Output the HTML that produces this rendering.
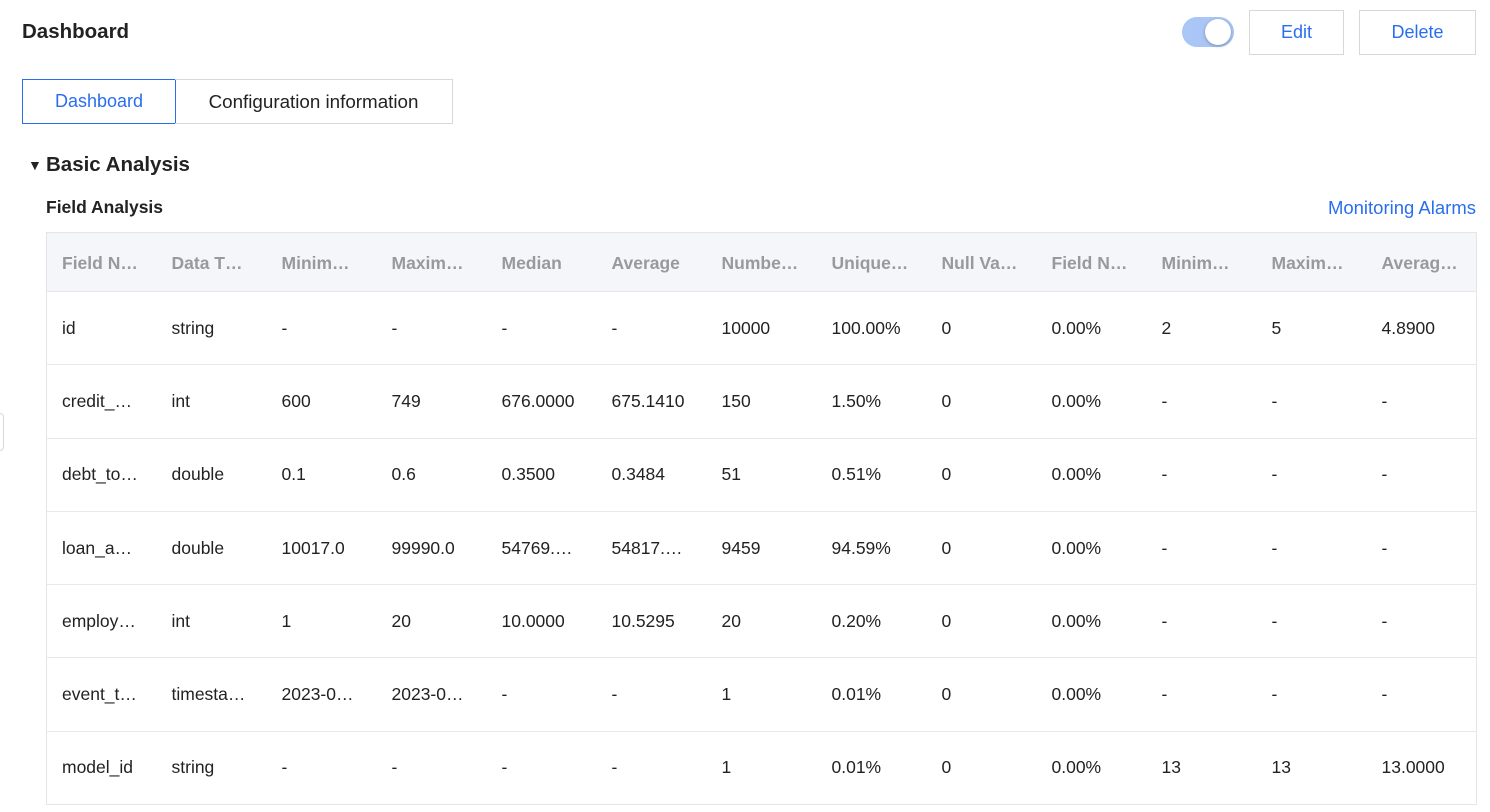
<!DOCTYPE html>
<html><head><style>
*{margin:0;padding:0;box-sizing:border-box}
body{width:1490px;height:812px;background:#fff;font-family:"Liberation Sans",Arial,sans-serif;color:#222;position:relative;overflow:hidden}
.abs{position:absolute}
.btn{position:absolute;top:10px;height:45px;border:1px solid #d6d8e0;color:#2a6ef0;font-size:18px;text-align:center;line-height:43px;background:#fff}
table{position:absolute;left:46px;top:232px;width:1430px;border-collapse:collapse;table-layout:fixed;border:1px solid #e3e5ea}
td,th{width:110px;padding-left:15px;text-align:left;white-space:nowrap;overflow:hidden;font-size:17.5px}
th{height:59px;background:#f4f6f9;color:#999;font-weight:bold;padding-top:2px}
td{height:73.3px;border-top:1px solid #e6e8ec;color:#222}
</style></head><body>
<div class="abs" style="left:22px;top:20px;font-size:20.5px;font-weight:bold">Dashboard</div>
<div class="abs" style="left:1182px;top:17px;width:52px;height:30px;border-radius:15px;background:#a9c6f6"></div>
<div class="abs" style="left:1205px;top:19px;width:26px;height:26px;border-radius:13px;background:#fff;box-shadow:0 1px 3px rgba(0,0,0,.3)"></div>
<div class="btn" style="left:1249px;width:95px">Edit</div>
<div class="btn" style="left:1359px;width:117px">Delete</div>
<div class="abs" style="left:22px;top:79px;width:154px;height:45px;border:1px solid #2a6ef0;color:#2a6ef0;font-size:18px;text-align:center;line-height:43px">Dashboard</div>
<div class="abs" style="left:175px;top:79px;width:278px;height:45px;border:1px solid #d6d8e0;border-left:none;font-size:18.8px;text-align:center;line-height:43px">Configuration information</div>
<div class="abs" style="left:28px;top:157px;font-size:14px">▼</div>
<div class="abs" style="left:46px;top:153px;font-size:20.5px;font-weight:bold">Basic Analysis</div>
<div class="abs" style="left:46px;top:197px;font-size:17.5px;font-weight:bold">Field Analysis</div>
<div class="abs" style="right:14px;top:197px;font-size:18.5px;color:#2a6ef0">Monitoring Alarms</div>
<div class="abs" style="left:-8px;top:413px;width:12px;height:38px;border:1px solid #d6d8e0;border-radius:4px"></div>
<table>
<tr><th>Field N…</th><th>Data T…</th><th>Minim…</th><th>Maxim…</th><th>Median</th><th>Average</th><th>Numbe…</th><th>Unique…</th><th>Null Va…</th><th>Field N…</th><th>Minim…</th><th>Maxim…</th><th>Averag…</th></tr>
<tr><td>id</td><td>string</td><td>-</td><td>-</td><td>-</td><td>-</td><td>10000</td><td>100.00%</td><td>0</td><td>0.00%</td><td>2</td><td>5</td><td>4.8900</td></tr>
<tr><td>credit_…</td><td>int</td><td>600</td><td>749</td><td>676.0000</td><td>675.1410</td><td>150</td><td>1.50%</td><td>0</td><td>0.00%</td><td>-</td><td>-</td><td>-</td></tr>
<tr><td>debt_to…</td><td>double</td><td>0.1</td><td>0.6</td><td>0.3500</td><td>0.3484</td><td>51</td><td>0.51%</td><td>0</td><td>0.00%</td><td>-</td><td>-</td><td>-</td></tr>
<tr><td>loan_a…</td><td>double</td><td>10017.0</td><td>99990.0</td><td>54769.…</td><td>54817.…</td><td>9459</td><td>94.59%</td><td>0</td><td>0.00%</td><td>-</td><td>-</td><td>-</td></tr>
<tr><td>employ…</td><td>int</td><td>1</td><td>20</td><td>10.0000</td><td>10.5295</td><td>20</td><td>0.20%</td><td>0</td><td>0.00%</td><td>-</td><td>-</td><td>-</td></tr>
<tr><td>event_t…</td><td>timesta…</td><td>2023-0…</td><td>2023-0…</td><td>-</td><td>-</td><td>1</td><td>0.01%</td><td>0</td><td>0.00%</td><td>-</td><td>-</td><td>-</td></tr>
<tr><td>model_id</td><td>string</td><td>-</td><td>-</td><td>-</td><td>-</td><td>1</td><td>0.01%</td><td>0</td><td>0.00%</td><td>13</td><td>13</td><td>13.0000</td></tr>
</table>
</body></html>
